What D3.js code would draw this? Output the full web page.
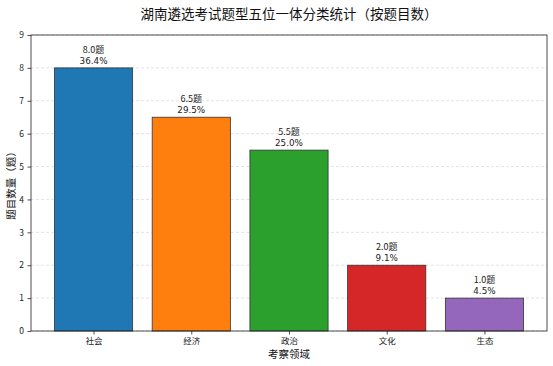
<!DOCTYPE html>
<html><head><meta charset="utf-8">
<script src="https://cdn.jsdelivr.net/npm/d3@7"></script>
<style>body{margin:0;background:#fff;} svg{display:block;font-family:"DejaVu Sans","Noto Sans CJK SC",sans-serif;}</style>
</head><body>
<script>
const categories = ["社会","经济","政治","文化","生态"];
const values = [8.0, 6.5, 5.5, 2.0, 1.0];
const percents = ["36.4%","29.5%","25.0%","9.1%","4.5%"];
const colors = ["#1f77b4","#ff7f0e","#2ca02c","#d62728","#9467bd"];
const yTicks = [0,1,2,3,4,5,6,7,8,9];

const W=553,H=366;
const L=31,R=547,T=35,B=331;
const svg=d3.select("body").append("svg").attr("width",W).attr("height",H);
const x=d3.scaleLinear().domain([-0.64,4.64]).range([L,R]);
const y=d3.scaleLinear().domain([0,9]).range([B,T]);
const cjk='"Noto Sans CJK SC","DejaVu Sans",sans-serif';

// grid
svg.append("g").selectAll("line").data(yTicks).join("line")
  .attr("x1",L).attr("x2",R).attr("y1",d=>y(d)).attr("y2",d=>y(d))
  .attr("stroke","#b0b0b0").attr("stroke-opacity",0.5).attr("stroke-width",0.7).attr("stroke-dasharray","3,2");

// bars
svg.append("g").selectAll("rect").data(values).join("rect")
  .attr("x",(d,i)=>x(i-0.4)).attr("width",(d,i)=>x(i+0.4)-x(i-0.4))
  .attr("y",d=>y(d)).attr("height",d=>y(0)-y(d))
  .attr("fill",(d,i)=>colors[i]).attr("stroke","#333").attr("stroke-width",0.8);

// labels
const lab=svg.append("g").attr("font-size",9).attr("fill","#222").attr("text-anchor","middle");
values.forEach((v,i)=>{
  lab.append("text").attr("x",x(i)).attr("y",y(v)-15).attr("font-family",cjk).text(v.toFixed(1)+"题");
  lab.append("text").attr("x",x(i)).attr("y",y(v)-4).attr("font-family","DejaVu Sans").attr("font-size",8.8).text(percents[i]);
});

// axes
const ya=svg.append("g").attr("transform",`translate(${L},0)`)
  .call(d3.axisLeft(y).tickValues(yTicks).tickSize(3.5).tickPadding(3.5).tickFormat(d3.format("d")));
const xa=svg.append("g").attr("transform",`translate(0,${B})`)
  .call(d3.axisBottom(x).tickValues(d3.range(categories.length)).tickSize(3.5).tickPadding(3.5).tickFormat(i=>categories[i]));
[ya,xa].forEach(g=>{g.select(".domain").remove();g.selectAll("text").attr("font-size",8.5).attr("fill","#222").attr("font-family",cjk);g.selectAll("line").attr("stroke","#222").attr("stroke-width",0.8);});

svg.append("rect").attr("x",L).attr("y",T).attr("width",R-L).attr("height",B-T)
  .attr("fill","none").attr("stroke","#222").attr("stroke-width",0.8);

// titles
svg.append("text").attr("x",(L+R)/2).attr("y",19).attr("text-anchor","middle").attr("font-size",13.5).attr("fill","#111").attr("font-family",cjk)
  .text("湖南遴选考试题型五位一体分类统计（按题目数）");
svg.append("text").attr("x",(L+R)/2).attr("y",358).attr("text-anchor","middle").attr("font-size",10.5).attr("fill","#111").attr("font-family",cjk)
  .text("考察领域");
svg.append("text").attr("transform",`translate(15,${(T+B)/2}) rotate(-90)`).attr("text-anchor","middle").attr("font-size",10.5).attr("fill","#111").attr("font-family",cjk)
  .text("题目数量（题）");
</script>
</body></html>
